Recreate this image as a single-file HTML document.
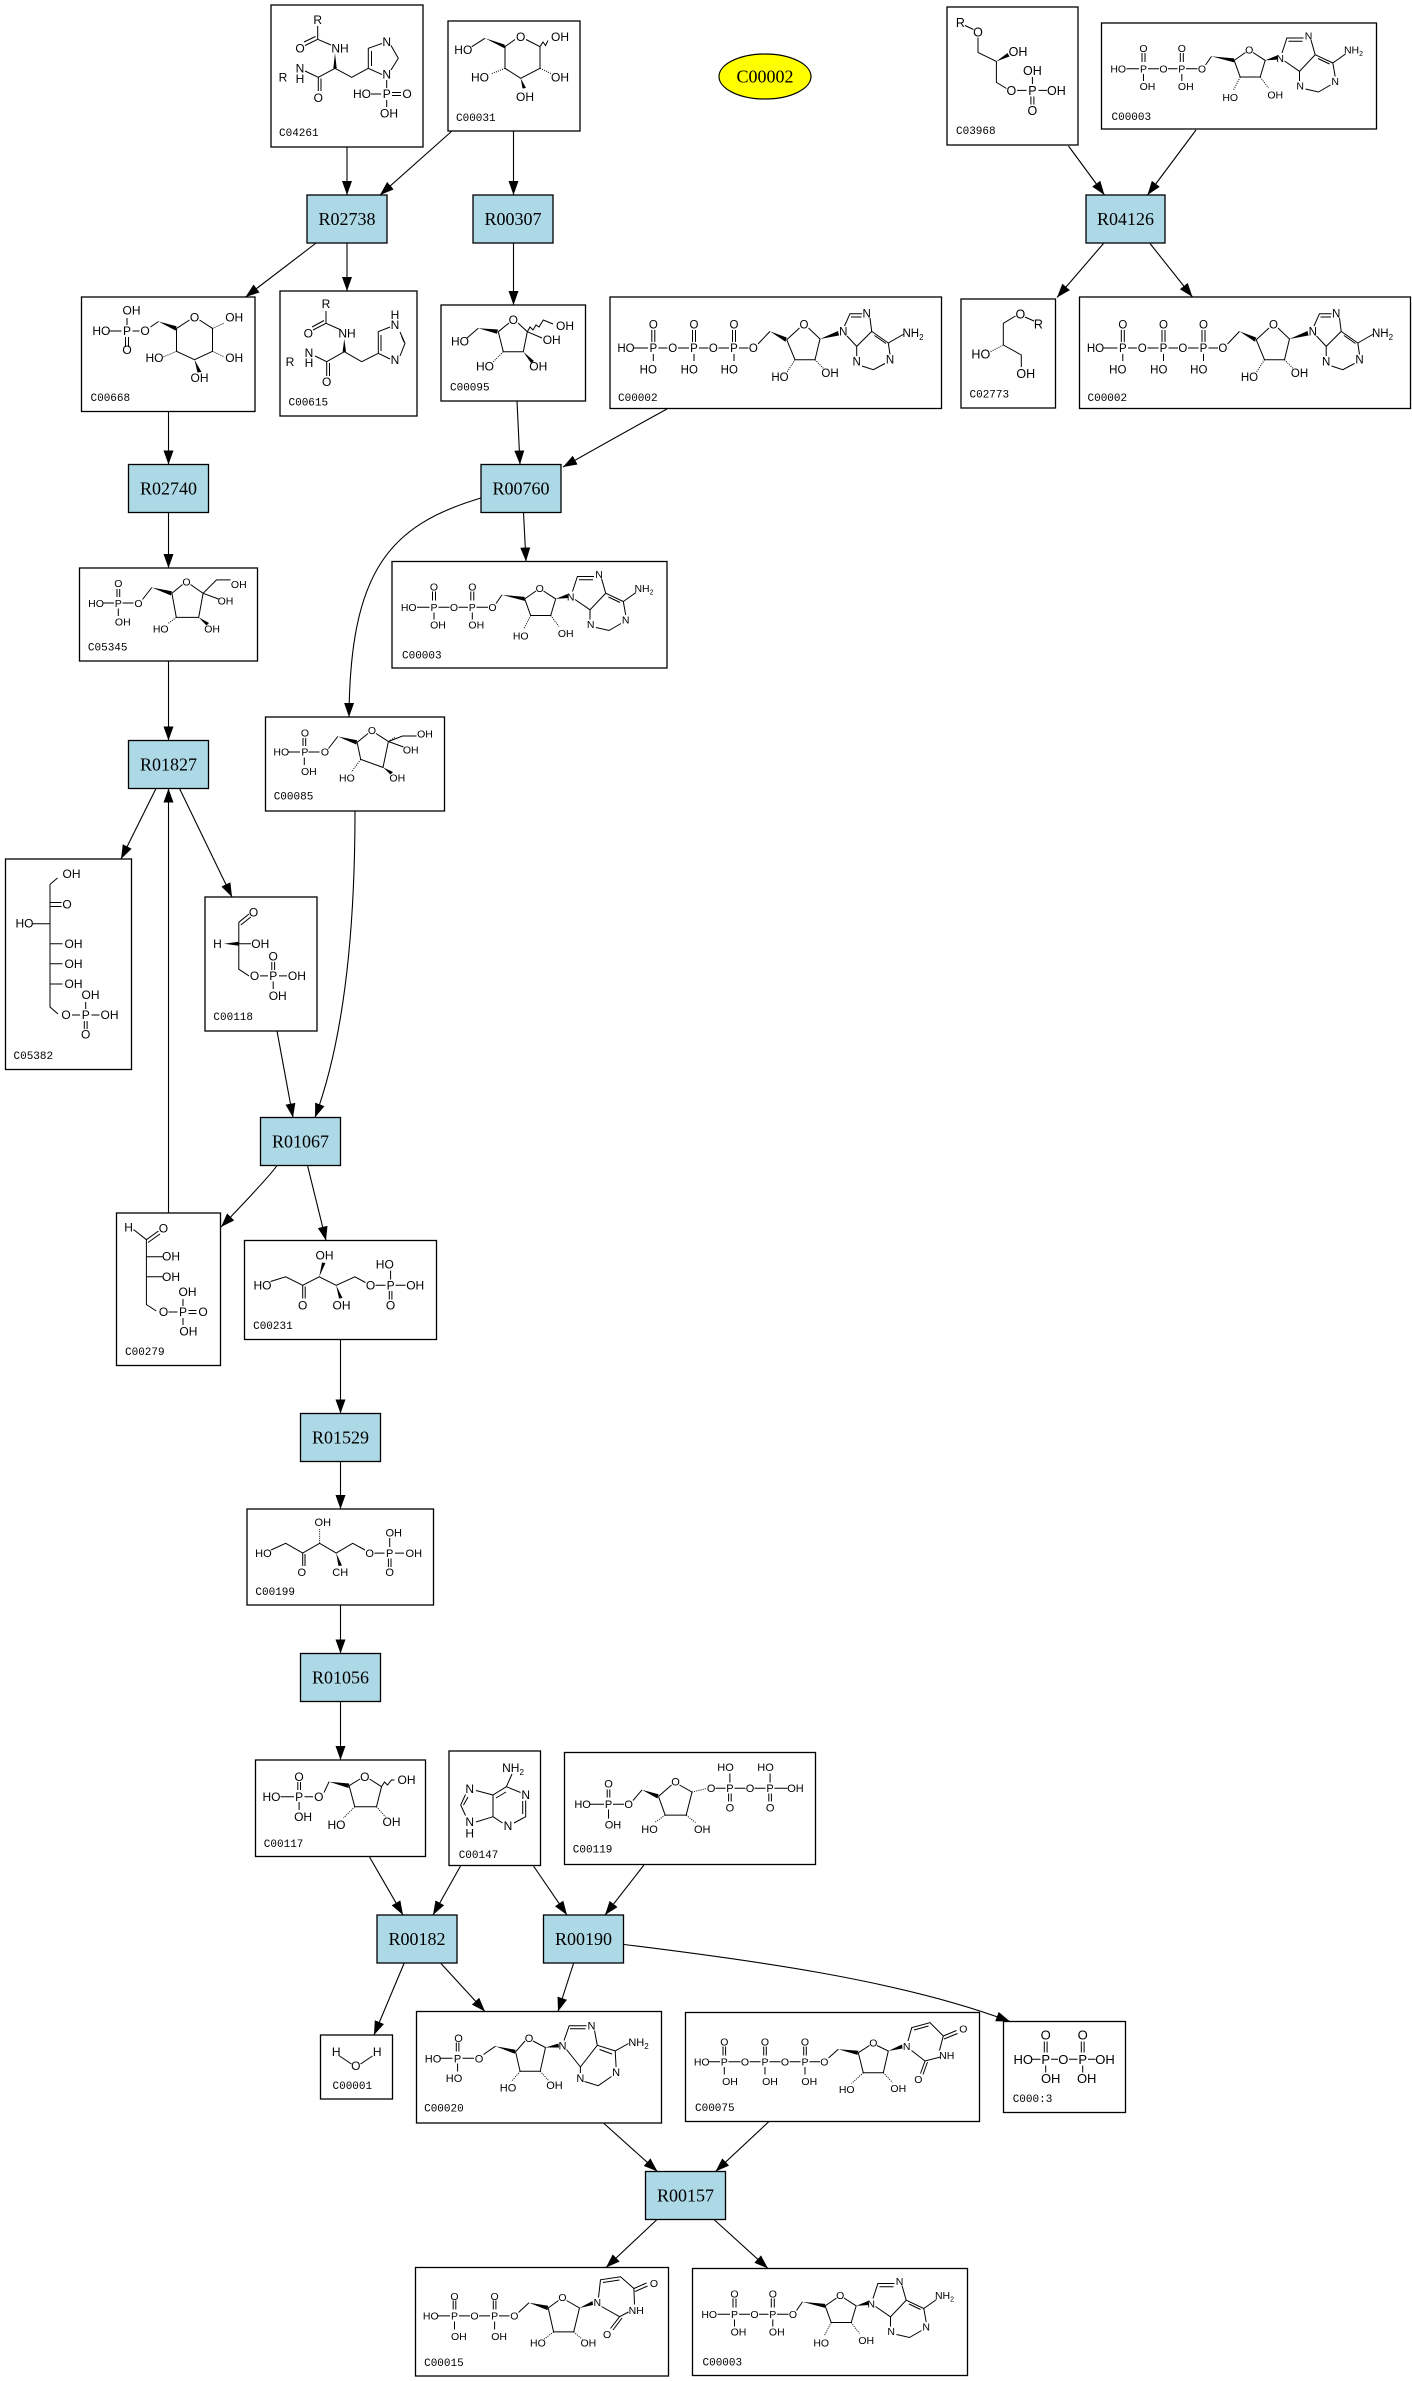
<!DOCTYPE html>
<html><head><meta charset="utf-8">
<style>
html,body{margin:0;padding:0;background:#fff;}
body{width:1412px;height:2381px;overflow:hidden;}
svg{position:absolute;left:0;top:0;}
svg text{font-family:"Liberation Sans",sans-serif;fill:#000;}
.m text{text-anchor:middle;}
.m text.lbl{font-family:"Liberation Mono",monospace;font-size:11px;text-anchor:start;}
.b{fill:none;stroke:#000;stroke-width:1;}
.h{fill:none;stroke:#000;stroke-width:1;stroke-dasharray:1 1.2;}
.w{fill:#000;stroke:none;}
.box{fill:#fff;stroke:#000;stroke-width:1.3;}
.rx{fill:#add8e6;stroke:#000;stroke-width:1.3;}
.rt{font-family:"Liberation Serif",serif !important;font-size:18px;text-anchor:middle;}
.e{fill:none;stroke:#000;stroke-width:1.1;}
</style></head>
<body>
<svg width="1412" height="2381" viewBox="0 0 1412 2381" xmlns="http://www.w3.org/2000/svg">
<defs>
<marker id="a" markerWidth="14" markerHeight="10" refX="14" refY="5" orient="auto" markerUnits="userSpaceOnUse"><path d="M0,0 L14,5 L0,10 z" fill="#000"/></marker>
</defs>

<!-- ============ COMPOUND BOXES ============ -->
<rect class="box" x="271" y="5" width="152" height="142"/>
<rect class="box" x="448" y="21" width="132" height="110"/>
<rect class="box" x="947" y="7" width="131" height="138"/>
<rect class="box" x="1101.5" y="23" width="275" height="106"/>
<rect class="box" x="81.5" y="297" width="173.5" height="114.5"/>
<rect class="box" x="280" y="291" width="137" height="125"/>
<rect class="box" x="441" y="305" width="144.5" height="96"/>
<rect class="box" x="610" y="297" width="331.5" height="111.5"/>
<rect class="box" x="961" y="299" width="94.5" height="109"/>
<rect class="box" x="1079.5" y="297" width="331" height="111.5"/>
<rect class="box" x="79.5" y="568" width="178" height="93"/>
<rect class="box" x="392" y="561.5" width="275" height="106.5"/>
<rect class="box" x="265.5" y="717" width="179" height="94"/>
<rect class="box" x="5.5" y="859" width="126" height="210.5"/>
<rect class="box" x="205" y="897" width="112" height="134"/>
<rect class="box" x="116.5" y="1213" width="104" height="152.5"/>
<rect class="box" x="244.5" y="1240.5" width="192" height="99"/>
<rect class="box" x="247" y="1509" width="186.5" height="96"/>
<rect class="box" x="255.5" y="1760" width="170" height="96.5"/>
<rect class="box" x="449" y="1751" width="91.5" height="114.5"/>
<rect class="box" x="564.5" y="1752.5" width="251" height="112"/>
<rect class="box" x="320.5" y="2035" width="72" height="64"/>
<rect class="box" x="416.5" y="2011.5" width="245" height="111.5"/>
<rect class="box" x="685.5" y="2012.5" width="294" height="109"/>
<rect class="box" x="1003.5" y="2021.5" width="122" height="91"/>
<rect class="box" x="415.5" y="2267.5" width="253" height="108.5"/>
<rect class="box" x="692.5" y="2268.5" width="275" height="107"/>

<!-- ============ C00002 ellipse ============ -->
<ellipse cx="765" cy="76.5" rx="46" ry="22.5" fill="#ffff00" stroke="#000" stroke-width="1.2"/>
<text class="rt" x="765" y="82.5">C00002</text>

<!-- ============ REACTIONS ============ -->
<g>
<rect class="rx" x="307" y="195" width="80" height="48"/><text class="rt" x="347" y="225">R02738</text>
<rect class="rx" x="473" y="195" width="80" height="48"/><text class="rt" x="513" y="225">R00307</text>
<rect class="rx" x="1086" y="195" width="79" height="48"/><text class="rt" x="1125.5" y="225">R04126</text>
<rect class="rx" x="128.5" y="464.5" width="80" height="48"/><text class="rt" x="168.5" y="494.5">R02740</text>
<rect class="rx" x="481" y="464.5" width="80" height="48"/><text class="rt" x="521" y="494.5">R00760</text>
<rect class="rx" x="128.5" y="740.5" width="80" height="48"/><text class="rt" x="168.5" y="770.5">R01827</text>
<rect class="rx" x="260.5" y="1117.5" width="80" height="48"/><text class="rt" x="300.5" y="1147.5">R01067</text>
<rect class="rx" x="300.5" y="1413.5" width="80" height="48"/><text class="rt" x="340.5" y="1443.5">R01529</text>
<rect class="rx" x="300.5" y="1653.5" width="80" height="48"/><text class="rt" x="340.5" y="1683.5">R01056</text>
<rect class="rx" x="377" y="1915" width="80" height="48"/><text class="rt" x="417" y="1945">R00182</text>
<rect class="rx" x="543.5" y="1915" width="80" height="48"/><text class="rt" x="583.5" y="1945">R00190</text>
<rect class="rx" x="645.5" y="2171.5" width="80" height="48"/><text class="rt" x="685.5" y="2201.5">R00157</text>
</g>

<!-- ============ EDGES ============ -->
<g class="e" marker-end="url(#a)">
<path class="e" marker-end="url(#a)" d="M347,147V195"/>
<path class="e" marker-end="url(#a)" d="M452,131L380,195"/>
<path class="e" marker-end="url(#a)" d="M513.5,131V195"/>
<path class="e" marker-end="url(#a)" d="M315.5,243.5L245.5,297"/>
<path class="e" marker-end="url(#a)" d="M347,243.5V291"/>
<path class="e" marker-end="url(#a)" d="M513.5,243.5V305"/>
<path class="e" marker-end="url(#a)" d="M1068.5,146L1104.5,195"/>
<path class="e" marker-end="url(#a)" d="M1196,130L1147.5,195"/>
<path class="e" marker-end="url(#a)" d="M1103.5,243.5L1057,297.5"/>
<path class="e" marker-end="url(#a)" d="M1150,243.5L1192.5,297"/>
<path class="e" marker-end="url(#a)" d="M168.5,411.5V464.5"/>
<path class="e" marker-end="url(#a)" d="M517,401L520,464.5"/>
<path class="e" marker-end="url(#a)" d="M667,409Q625,432 563,467"/>
<path class="e" marker-end="url(#a)" d="M523.5,512.5L526,561.5"/>
<path class="e" marker-end="url(#a)" d="M481,498C390,525 350,570 349,717"/>
<path class="e" marker-end="url(#a)" d="M168.5,512.5V568"/>
<path class="e" marker-end="url(#a)" d="M168.5,661V740.5"/>
<path class="e" marker-end="url(#a)" d="M156,788.5L121,859"/>
<path class="e" marker-end="url(#a)" d="M179.5,788.5L232,897"/>
<path class="e" marker-end="url(#a)" d="M168.5,1213V788.5"/>
<path class="e" marker-end="url(#a)" d="M277,1031L293,1117.5"/>
<path class="e" marker-end="url(#a)" d="M355,811C355,950 340,1050 315,1117.5"/>
<path class="e" marker-end="url(#a)" d="M277,1165.5Q270,1176 221,1227"/>
<path class="e" marker-end="url(#a)" d="M307.5,1165.5L326,1240.5"/>
<path class="e" marker-end="url(#a)" d="M340.5,1339.5V1413.5"/>
<path class="e" marker-end="url(#a)" d="M340.5,1461.5V1509"/>
<path class="e" marker-end="url(#a)" d="M340.5,1605V1653.5"/>
<path class="e" marker-end="url(#a)" d="M340.5,1701.5V1760"/>
<path class="e" marker-end="url(#a)" d="M369.5,1857L403,1915"/>
<path class="e" marker-end="url(#a)" d="M460.5,1866L433,1915"/>
<path class="e" marker-end="url(#a)" d="M533.5,1866L567,1915"/>
<path class="e" marker-end="url(#a)" d="M644,1865L605,1915"/>
<path class="e" marker-end="url(#a)" d="M404,1963.5L374,2035"/>
<path class="e" marker-end="url(#a)" d="M441,1963.5L485,2011.5"/>
<path class="e" marker-end="url(#a)" d="M573.5,1963.5L558,2011.5"/>
<path class="e" marker-end="url(#a)" d="M624,1944.5C750,1960 900,1980 1010,2021.5"/>
<path class="e" marker-end="url(#a)" d="M604,2123.5L657.5,2171.5"/>
<path class="e" marker-end="url(#a)" d="M769,2121.5L715.5,2171.5"/>
<path class="e" marker-end="url(#a)" d="M657,2219.5L606,2267.5"/>
<path class="e" marker-end="url(#a)" d="M714,2219.5L768,2268.5"/>
</g>

<!-- ============ MOLECULES ============ -->

<!-- C04261 -->
<g class="m" font-size="12" transform="translate(271,5)">
<path class="b" d="M46.7,21V34.3 M46.7,34.3L34,40.5 M44.5,31.5L33,37 M46.7,34.3L60,40 M34,66L47.3,72.3L64,63.3L80.7,72.3L97.3,63.3 M47.3,72.3V86 M50,73.5V86 M97.3,63.3V43.3L111,38.5 M100.5,46V61 M120,40.5L127.3,53.3L120,65 M122,44L126,51 M111,69.5L97.3,63.3 M115.7,75V83 M100,89H110 M121,87.5H130 M121,90.5H130 M115.7,95V102"/>
<polygon class="w" points="64,48 62.3,63.3 65.7,63.3"/>
<text x="46.7" y="19">R</text><text x="29" y="47.5">O</text><text x="69" y="47.5">NH</text>
<text x="12" y="76.5">R</text><text x="29" y="67.5">N</text><text x="29" y="78">H</text>
<text x="47.3" y="97">O</text><text x="115.7" y="41">N</text><text x="115.7" y="73.5">N</text>
<text x="91" y="93">HO</text><text x="115.7" y="93">P</text><text x="136" y="93">O</text><text x="118" y="112.5">OH</text>
<text class="lbl" x="8" y="131">C04261</text>
</g>

<!-- C00031 -->
<g class="m" font-size="12" transform="translate(448,21)">
<path class="b" d="M23.7,25.7L37,17.3 M57,25.7L67,18.5 M78,18.5L92,25.7V47.3L72.7,57.3L57,47.3V25.7 M92,25.7L95,21L97.5,24.5L100,19.5"/>
<path class="h" d="M57,47.3L43,53 M92,47.3L104,53"/>
<polygon class="w" points="37,17.3 56.5,23.5 57.5,27.8"/>
<polygon class="w" points="72.7,57.3 74.5,67.5 78,67"/>
<text x="72.7" y="20">O</text><text x="112" y="20">OH</text><text x="15.3" y="33">HO</text>
<text x="32" y="60.5">HO</text><text x="112" y="60.5">OH</text><text x="77" y="80">OH</text>
<text class="lbl" x="8" y="100">C00031</text>
</g>

<!-- C03968 -->
<g class="m" font-size="12.5" transform="translate(947,7)">
<path class="b" d="M18,18.5L26.5,22.5 M31,30.5V45.4L49.4,54.4V75.4L59.5,81.5 M70,83.4H79.5 M91.5,83.4H100 M85.4,77V70 M83.9,89.5V97.5 M86.9,89.5V97.5"/>
<polygon class="w" points="49.4,54.4 60.5,46 62.5,49.5"/>
<text fill="#630" x="13.4" y="20">R</text><text x="31" y="29.5">O</text><text x="71" y="49">OH</text>
<text x="85.4" y="68">OH</text><text x="64.4" y="88">O</text><text x="85.4" y="88">P</text>
<text x="109.4" y="88">OH</text><text x="85.4" y="108">O</text>
<text class="lbl" x="9" y="127">C03968</text>
</g>

<!-- ADP C00003 (top right) -->
<g class="m" font-size="10.5" transform="translate(1101.5,23)">
<path class="b" d="M25,45.7H37.5 M46.5,45.7H57.5 M66.5,45.7H76 M84.5,45.7H96 M40.5,39V30 M43.5,39V30 M78.8,39V30 M81.8,39V30 M42,51V58 M80.3,51V58 M104,42L110,33.4 M132.7,37.4L144,29.5 M151.5,29.5L163.7,37.4L158.7,54L138.7,54L132.7,37.4 M180.5,30L185.4,15H202 M187,18.3H201 M209.5,17L213.7,31.7L198,48.3L183,38 M198,48.3V58 M204,66L217,69L229,62 M233.7,53.5L231.3,40L213.7,31.7 M231.3,40L244,31 M216.5,35.5L228,41"/>
<path class="h" d="M138.7,54L132,67 M158.7,54L167,65"/>
<polygon class="w" points="110,33.4 132.7,35.4 132.7,39.4"/>
<polygon class="w" points="163.7,37.4 175.5,32.5 176.5,36.5"/>
<text x="16.7" y="49.5">HO</text><text x="42" y="49.5">P</text><text x="62" y="49.5">O</text><text x="80.3" y="49.5">P</text><text x="100.4" y="49.5">O</text>
<text x="42" y="28.8">O</text><text x="80.3" y="28.8">O</text><text x="46" y="67.2">OH</text><text x="84.3" y="67.2">OH</text>
<text x="147.7" y="30.5">O</text><text x="128.7" y="77.8">HO</text><text x="173.7" y="75.5">OH</text>
<text x="178.7" y="38.8">N</text><text x="207" y="16.5">N</text><text x="198.7" y="66.5">N</text><text x="233.7" y="62.2">N</text>
<text x="252" y="30.5">NH<tspan font-size="7" dy="2.5">2</tspan></text>
<text class="lbl" x="10" y="97">C00003</text>
</g>

<!-- C00668 -->
<g class="m" font-size="12" transform="translate(81.5,297)">
<path class="b" d="M27,34H40 M51,34H58 M45.5,28V21 M44,40V50 M47,40V50 M69,30L77,24.5 M95,31.4L108,23 M118,23L131,31.4V54.3L113,62.7L95,54.3V31.4"/>
<path class="h" d="M131,31.4L143,26 M95,54.3L82,60 M131,54.3L143,60"/>
<polygon class="w" points="77,24.5 95,29.2 94.2,33.6"/>
<polygon class="w" points="113,62.7 116,75.5 120,75"/>
<text x="50" y="17.7">OH</text><text x="19.9" y="38">HO</text><text x="45.5" y="38">P</text><text x="63.5" y="38">O</text>
<text x="45.5" y="57.2">O</text><text x="113" y="24.6">O</text><text x="152.7" y="24.6">OH</text>
<text x="73" y="64.8">HO</text><text x="152.7" y="64.8">OH</text><text x="118" y="85">OH</text>
<text class="lbl" x="9" y="104">C00668</text>
</g>

<!-- C00615 -->
<g class="m" font-size="12" transform="translate(280,291)">
<path class="b" d="M46,20V32.3 M46,32.3L33,39 M44,29.5L32,36 M46,32.3L60,38.5 M35,65L46.7,70.7L64.3,60.7L81.7,70.7L98.3,62.3 M46.7,70.7V85 M49.5,72V85 M98.3,62.3L110,68 M98.3,62.3V40.7L110,36 M120,41L125,52.3L120,65 M121.5,45L124,51 M101,44V60"/>
<polygon class="w" points="64.3,48 62.6,60.7 66,60.7"/>
<text x="46" y="17">R</text><text x="28.3" y="46.3">O</text><text x="67" y="46.3">NH</text>
<text x="10" y="75">R</text><text x="29" y="66">N</text><text x="29" y="76">H</text>
<text x="46.7" y="95">O</text><text x="115" y="73">N</text><text x="115" y="38">N</text><text x="115" y="28">H</text>
<text class="lbl" x="8.5" y="114.5">C00615</text>
</g>

<!-- C00095 -->
<g class="m" font-size="12" transform="translate(441,305)">
<path class="b" d="M26,33L37.3,23.3 M57.3,26.7L68,18 M77,18L86.3,26.7L82.3,46.7L62.3,46.7L57.3,26.7 M86.3,26.7L89,22L92,25L95,20L98,22L102.3,15L112,19 M86.3,26.7L101,33"/>
<path class="h" d="M62.3,46.7L52,57"/>
<polygon class="w" points="37.3,23.3 57,24.5 56,28.8"/>
<polygon class="w" points="82.3,46.7 90,58 93,56"/>
<text x="19" y="40.7">HO</text><text x="72.3" y="19">O</text><text x="124" y="25">OH</text>
<text x="110.7" y="39">OH</text><text x="44" y="65.7">HO</text><text x="97.3" y="65.7">OH</text>
<text class="lbl" x="9" y="85.5">C00095</text>
</g>

<!-- ATP C00002 (middle) -->
<g class="m" font-size="11.5" transform="translate(610,297)">
<path class="b" d="M24,51H38 M48.5,51H57.5 M68,51H79 M89,51H98.5 M108.5,51H119 M129,51H138.5 M41.8,45V33 M44.8,45V33 M82.5,45V33 M85.5,45V33 M122.5,45V33 M125.5,45V33 M43.3,57V64 M84,57V64 M124,57V64 M148,47L160,34.4 M176.7,42.7L189.5,31 M198.5,31L210,42L205,62.7L185,62.7L176.7,42.7 M234.5,29L240,16.7H252 M241,20H251.5 M260,21L261.7,34.4L246.7,49.4L237,39 M246.7,49.4V59 M252,69L263.3,72.7L275,66.5 M280,57.5L278.3,46L261.7,34.4 M278.3,46L294,37 M264.5,38.5L276,46.5"/>
<path class="h" d="M185,62.7L177,75 M205,62.7L214,72"/>
<polygon class="w" points="160,34.4 176.7,40.5 175.5,44.8"/>
<polygon class="w" points="210,42 228,34 229,38.5"/>
<text x="16" y="55">HO</text><text x="43.3" y="55">P</text><text x="62.7" y="55">O</text><text x="84" y="55">P</text><text x="103.3" y="55">O</text><text x="124" y="55">P</text><text x="143.3" y="55">O</text>
<text x="43.3" y="31.7">O</text><text x="84" y="31.7">O</text><text x="124" y="31.7">O</text>
<text x="38.3" y="76.7">HO</text><text x="79.3" y="76.7">HO</text><text x="119.3" y="76.7">HO</text>
<text x="194" y="31.7">O</text><text x="170" y="84">HO</text><text x="220" y="80">OH</text>
<text x="233.3" y="38.4">N</text><text x="256.7" y="20.7">N</text><text x="246.7" y="68.4">N</text><text x="280" y="66.7">N</text>
<text x="303" y="40">NH<tspan font-size="8" dy="3">2</tspan></text>
<text class="lbl" x="8" y="104">C00002</text>
</g>

<!-- C02773 -->
<g class="m" font-size="12.5" transform="translate(961,299)">
<path class="b" d="M42.3,24.3L54.5,17 M64,18L73,22 M42.3,24.3V46 M42.3,46L60.3,56V68"/>
<path class="h" d="M42.3,46L29,53"/>
<text x="59.4" y="19.5">O</text><text x="77.4" y="29.5">R</text><text x="19.8" y="59.5">HO</text><text x="64.8" y="79">OH</text>
<text class="lbl" x="8.5" y="98.5">C02773</text>
</g>

<!-- ATP C00002 (right) -->
<g class="m" font-size="11.5" transform="translate(1079.5,297)">
<path class="b" d="M24,51H38 M48.5,51H57.5 M68,51H79 M89,51H98.5 M108.5,51H119 M129,51H138.5 M41.8,45V33 M44.8,45V33 M82.5,45V33 M85.5,45V33 M122.5,45V33 M125.5,45V33 M43.3,57V64 M84,57V64 M124,57V64 M148,47L160,34.4 M176.7,42.7L189.5,31 M198.5,31L210,42L205,62.7L185,62.7L176.7,42.7 M234.5,29L240,16.7H252 M241,20H251.5 M260,21L261.7,34.4L246.7,49.4L237,39 M246.7,49.4V59 M252,69L263.3,72.7L275,66.5 M280,57.5L278.3,46L261.7,34.4 M278.3,46L294,37 M264.5,38.5L276,46.5"/>
<path class="h" d="M185,62.7L177,75 M205,62.7L214,72"/>
<polygon class="w" points="160,34.4 176.7,40.5 175.5,44.8"/>
<polygon class="w" points="210,42 228,34 229,38.5"/>
<text x="16" y="55">HO</text><text x="43.3" y="55">P</text><text x="62.7" y="55">O</text><text x="84" y="55">P</text><text x="103.3" y="55">O</text><text x="124" y="55">P</text><text x="143.3" y="55">O</text>
<text x="43.3" y="31.7">O</text><text x="84" y="31.7">O</text><text x="124" y="31.7">O</text>
<text x="38.3" y="76.7">HO</text><text x="79.3" y="76.7">HO</text><text x="119.3" y="76.7">HO</text>
<text x="194" y="31.7">O</text><text x="170" y="84">HO</text><text x="220" y="80">OH</text>
<text x="233.3" y="38.4">N</text><text x="256.7" y="20.7">N</text><text x="246.7" y="68.4">N</text><text x="280" y="66.7">N</text>
<text x="303" y="40">NH<tspan font-size="8" dy="3">2</tspan></text>
<text class="lbl" x="8" y="104">C00002</text>
</g>

<!-- C05345 -->
<g class="m" font-size="10.5" transform="translate(79.5,568)">
<path class="b" d="M37.5,29V21 M40.2,29V21 M23,35H34.5 M43,35H54 M38.8,40.5V48 M63,31.5L72.3,19.5 M92.4,25.3L103,16.5 M111,16.5L123.6,25.3L119.2,49.4L96.8,49.4L92.4,25.3 M123.6,25.3L137,11.9H151 M123.6,25.3L139,31"/>
<path class="h" d="M96.8,49.4L88,56"/>
<polygon class="w" points="72.3,19.5 92.4,23.3 91.5,27.5"/>
<polygon class="w" points="119.2,49.4 127,57.5 129.5,55"/>
<text x="38.8" y="18.8">O</text><text x="16.5" y="38.8">HO</text><text x="38.8" y="38.8">P</text><text x="58.9" y="38.8">O</text>
<text x="43.3" y="57.7">OH</text><text x="107" y="17.5">O</text><text x="159.3" y="20.2">OH</text>
<text x="146" y="36.7">OH</text><text x="81.2" y="64.4">HO</text><text x="132.6" y="64.4">OH</text>
<text class="lbl" x="8.4" y="82.5">C05345</text>
</g>

<!-- ADP C00003 (middle) -->
<g class="m" font-size="10.5" transform="translate(392,561.5)">
<path class="b" d="M25,45.7H37.5 M46.5,45.7H57.5 M66.5,45.7H76 M84.5,45.7H96 M40.5,39V30 M43.5,39V30 M78.8,39V30 M81.8,39V30 M42,51V58 M80.3,51V58 M104,42L110,33.4 M132.7,37.4L144,29.5 M151.5,29.5L163.7,37.4L158.7,54L138.7,54L132.7,37.4 M180.5,30L185.4,15H202 M187,18.3H201 M209.5,17L213.7,31.7L198,48.3L183,38 M198,48.3V58 M204,66L217,69L229,62 M233.7,53.5L231.3,40L213.7,31.7 M231.3,40L244,31 M216.5,35.5L228,41"/>
<path class="h" d="M138.7,54L132,67 M158.7,54L167,65"/>
<polygon class="w" points="110,33.4 132.7,35.4 132.7,39.4"/>
<polygon class="w" points="163.7,37.4 175.5,32.5 176.5,36.5"/>
<text x="16.7" y="49.5">HO</text><text x="42" y="49.5">P</text><text x="62" y="49.5">O</text><text x="80.3" y="49.5">P</text><text x="100.4" y="49.5">O</text>
<text x="42" y="28.8">O</text><text x="80.3" y="28.8">O</text><text x="46" y="67.2">OH</text><text x="84.3" y="67.2">OH</text>
<text x="147.7" y="30.5">O</text><text x="128.7" y="77.8">HO</text><text x="173.7" y="75.5">OH</text>
<text x="178.7" y="38.8">N</text><text x="207" y="16.5">N</text><text x="198.7" y="66.5">N</text><text x="233.7" y="62.2">N</text>
<text x="252" y="30.5">NH<tspan font-size="7" dy="2.5">2</tspan></text>
<text class="lbl" x="10" y="97">C00003</text>
</g>

<!-- C00085 -->
<g class="m" font-size="10.5" transform="translate(265.5,717)">
<path class="b" d="M37.5,29V21 M40.2,29V21 M23,35H34.5 M43,35H54 M38.8,40.5V48 M63,31.5L72.3,19.5 M91.6,25.4L102.5,16.5 M110.5,16.5L122.9,24.5L117.5,50.4L95.2,42.4L91.6,25.4 M122.9,24.5L137,19H151 M122.9,24.5L138,30"/>
<path class="h" d="M95.2,42.4L86,55 M122.9,24.5L130,20"/>
<polygon class="w" points="72.3,19.5 91.6,23.3 90.8,27.5"/>
<polygon class="w" points="117.5,50.4 125,57.5 127.5,55"/>
<text x="39.4" y="19.4">O</text><text x="15.8" y="38.6">HO</text><text x="39.4" y="38.6">P</text><text x="59.5" y="38.6">O</text>
<text x="43.4" y="58.2">OH</text><text x="106.4" y="17.2">O</text><text x="159.5" y="20.3">OH</text>
<text x="145.2" y="36.3">OH</text><text x="81.4" y="64.5">HO</text><text x="131.8" y="64.5">OH</text>
<text class="lbl" x="8.2" y="82.5">C00085</text>
</g>

<!-- C05382 -->
<g class="m" font-size="12" transform="translate(5.5,859)">
<path class="b" d="M44.5,25.4V148L52.5,155 M44.5,25.4L52,19 M44.5,43.5H56 M44.5,47.5H56 M27,64.7H44.5 M44.5,84.8H57 M44.5,104.8H57 M44.5,125H57 M66.5,156H74.5 M86,156H94 M80.2,150V143 M78.8,162V170 M81.6,162V170"/>
<text x="66" y="19">OH</text><text x="61.5" y="49.5">O</text><text x="19" y="68.7">HO</text>
<text x="68" y="88.8">OH</text><text x="68" y="108.8">OH</text><text x="68" y="129">OH</text>
<text x="85" y="140">OH</text><text x="60.6" y="160">O</text><text x="80.2" y="160">P</text>
<text x="104" y="160">OH</text><text x="80.2" y="179.5">O</text>
<text class="lbl" x="8" y="200">C05382</text>
</g>

<!-- C00118 -->
<g class="m" font-size="12" transform="translate(205,897)">
<path class="b" d="M33.8,25.3L44,17 M35.8,28L45.8,20 M33.8,25.3V72.2L44,78.9 M33.8,46.8H46 M55,78.9H63 M74,78.9H82 M66.8,73V65 M69.6,73V65 M68.2,84.5V92"/>
<polygon class="w" points="19,46.8 33.8,44.8 33.8,48.8"/>
<text x="48.6" y="19.5">O</text><text x="12.4" y="51">H</text><text x="55.3" y="51">OH</text>
<text x="49.5" y="83">O</text><text x="68.2" y="83">P</text><text x="91.9" y="83">OH</text>
<text x="68.2" y="63.7">O</text><text x="72.7" y="103">OH</text>
<text class="lbl" x="8.4" y="123">C00118</text>
</g>

<!-- C00279 -->
<g class="m" font-size="12" transform="translate(116.5,1213)">
<path class="b" d="M17,16.5L29.9,26.7 M29.9,26.7L42,18 M31.5,29.5L43.5,21 M29.9,26.7V91.5L39.8,98 M29.9,43.7H46 M29.9,63.8H46 M52,99H61 M72,97.5H80 M72,100.5H80 M66.5,93V86 M66.5,105V112"/>
<text x="12.1" y="18.7">H</text><text x="46.9" y="19.6">O</text><text x="54.5" y="47.7">OH</text>
<text x="54.5" y="67.8">OH</text><text x="47" y="103">O</text><text x="66.5" y="103">P</text>
<text x="86.6" y="103">O</text><text x="71" y="83">OH</text><text x="71.9" y="122.3">OH</text>
<text class="lbl" x="8.5" y="142">C00279</text>
</g>

<!-- C00231 -->
<g class="m" font-size="12" transform="translate(244.5,1240.5)">
<path class="b" d="M26,41L41.2,36.3L58.2,44.8L74.7,36.3L91.7,44.8L110.4,36.3L121,42 M58.2,44.8V58 M60.7,46V58 M131,44.8H141 M151,44.8H161 M146.1,39V30 M144.8,50.5V59 M147.4,50.5V59"/>
<polygon class="w" points="74.7,36.3 77.5,22 81,22.5"/>
<polygon class="w" points="91.7,44.8 94.5,58 98,57.5"/>
<text x="18" y="48.8">HO</text><text x="58.2" y="68.9">O</text><text x="80" y="18.9">OH</text>
<text x="97" y="68.9">OH</text><text x="126" y="48.8">O</text><text x="146.1" y="48.8">P</text>
<text x="170.7" y="48.8">OH</text><text x="140.3" y="27.8">HO</text><text x="146.1" y="68.9">O</text>
<text class="lbl" x="8.6" y="88.5">C00231</text>
</g>

<!-- C00199 -->
<g class="m" font-size="11" transform="translate(247,1509)">
<path class="b" d="M24,41L38.7,34.3L55.7,44.1L72.6,34.3L89.2,44.1L105.7,34.3L118,41 M55.7,44.1V57 M58,45V57 M127.5,44.1H137.5 M148,44.1H157 M142.7,38V29 M141.4,49.5V58 M144,49.5V58"/>
<path class="h" d="M72.6,34.3V19"/>
<polygon class="w" points="89.2,44.1 91.5,57 95,56.5"/>
<text x="16.4" y="48">HO</text><text x="54.8" y="67.2">O</text><text x="75.8" y="17.2">OH</text>
<text x="93.2" y="67.2">CH</text><text x="122.6" y="48">O</text><text x="142.7" y="48">P</text>
<text x="166.8" y="48">OH</text><text x="146.7" y="27.5">OH</text><text x="142.7" y="67.2">O</text>
<text class="lbl" x="8.4" y="86">C00199</text>
</g>

<!-- C00117 -->
<g class="m" font-size="12" transform="translate(255.5,1760)">
<path class="b" d="M42.3,30V22 M45,30V22 M25,36.7H38.5 M49,36.7H57.5 M43.6,42V50 M68.5,32.5L73.6,21.7 M93.6,25.7L104.5,19 M114,19L126,26.7L121,46.7L99.3,46.7L93.6,25.7 M126,26.7L129,22L132,25L136,20L139,20"/>
<path class="h" d="M99.3,46.7L88,58 M121,46.7L130,57"/>
<polygon class="w" points="73.6,21.7 93.6,23.5 93,28"/>
<text x="43.6" y="20.9">O</text><text x="16" y="40.9">HO</text><text x="43.6" y="40.9">P</text>
<text x="63.3" y="40.9">O</text><text x="47.6" y="60.9">OH</text><text x="109.3" y="20.9">O</text>
<text x="151" y="24.2">OH</text><text x="81" y="69.2">HO</text><text x="136" y="65.9">OH</text>
<text class="lbl" x="8.3" y="87">C00117</text>
</g>

<!-- C00147 -->
<g class="m" font-size="12" transform="translate(449,1751)">
<path class="b" d="M57.4,35.7L63,23 M57.4,35.7L71.5,41.5 M76.7,49.5V65.7L65,72 M53.5,72L44,65.7V44L57.4,35.7 M47,47L57,41 M73.7,50V63 M44,44L27,39.5 M16.5,43.5L11.7,54L16.5,64.5 M19,46L14.5,54 M27,71L44,65.7"/>
<text x="64" y="20.9">NH<tspan font-size="8" dy="3">2</tspan></text>
<text x="76.7" y="48.2">N</text><text x="59" y="78.9">N</text><text x="20.7" y="42.2">N</text>
<text x="20.7" y="74.9">N</text><text x="20.7" y="86.5">H</text>
<text class="lbl" x="9.7" y="107">C00147</text>
</g>

<!-- C00119 -->
<g class="m" font-size="11" transform="translate(564.5,1752.5)">
<path class="b" d="M42.7,45V37 M45.3,45V37 M25,51.7H39.5 M48.5,51.7H59.5 M44,57V66 M68.5,48L77.5,37.4 M94,43.9L107,32.5 M115,32.5L127.5,39.6L121.7,62.6L100.7,62.6L94,43.9 M151,35.7H161 M170,35.7H181 M190,35.7H201 M210,35.7H223 M165.4,30V21 M205.6,30V21 M164.1,41V49 M166.7,41V49 M204.3,41V49 M206.9,41V49"/>
<path class="h" d="M127.5,39.6L142,36 M100.7,62.6L90,70 M121.7,62.6L131,70"/>
<polygon class="w" points="77.5,37.4 94,41.8 93,46"/>
<text x="44" y="35.2">O</text><text x="18.1" y="55.6">HO</text><text x="44" y="55.6">P</text>
<text x="64.1" y="55.6">O</text><text x="48.5" y="76.1">OH</text><text x="111" y="33.1">O</text>
<text x="85" y="80.4">HO</text><text x="137.7" y="80.4">OH</text><text x="146.7" y="39.6">O</text>
<text x="165.4" y="39.6">P</text><text x="185.5" y="39.6">O</text><text x="205.6" y="39.6">P</text>
<text x="231" y="39.6">OH</text><text x="161" y="18.7">HO</text><text x="201" y="18.7">HO</text>
<text x="165.4" y="59.1">O</text><text x="205.6" y="59.1">O</text>
<text class="lbl" x="8.3" y="100">C00119</text>
</g>

<!-- C00001 -->
<g class="m" font-size="12" transform="translate(320.5,2035)">
<path class="b" d="M19,21L31,29 M40,29L52,21"/>
<text x="15.7" y="21">H</text><text x="35.3" y="35">O</text><text x="56.7" y="21">H</text>
<text class="lbl" x="12" y="54">C00001</text>
</g>

<!-- C00020 AMP -->
<g class="m" font-size="11" transform="translate(416.5,2011.5)">
<path class="b" d="M39.8,40V31 M42.4,40V31 M23,46.8H36 M46,46.8H57.5 M41.1,52V60 M67,43L79,34.7 M99.1,40.3L108.5,29.5 M116.5,29.5L129,36L123.7,59.8L103.6,59.8L99.1,40.3 M147.5,29L152.7,14.2H170 M153.5,17.3H169 M178,19L180.8,33.8L163.9,55.5L150,38 M163.9,55.5V61.5 M168,70L181.7,74.2L195,65 M199.6,55.5L198.7,39.4L180.8,33.8 M198.7,39.4L212,32 M183,38L195.5,42.5"/>
<path class="h" d="M103.6,59.8L95,70 M123.7,59.8L132,69"/>
<polygon class="w" points="79,34.7 99.1,38.3 98.3,42.3"/>
<polygon class="w" points="129,36 142,32 142.5,36"/>
<text x="42" y="30.4">O</text><text x="16.5" y="50.8">HO</text><text x="41.1" y="50.8">P</text>
<text x="62.5" y="50.8">O</text><text x="37.5" y="70.3">HO</text><text x="112.5" y="30.4">O</text>
<text x="91.5" y="79.9">HO</text><text x="138" y="77.7">OH</text><text x="146" y="37.8">N</text>
<text x="175" y="18.2">N</text><text x="163.9" y="70.3">N</text><text x="199.6" y="64.7">N</text>
<text x="222" y="34.7">NH<tspan font-size="8" dy="3">2</tspan></text>
<text class="lbl" x="7.6" y="100">C00020</text>
</g>

<!-- C00075 UTP -->
<g class="m" font-size="10.5" transform="translate(685.5,2012.5)">
<path class="b" d="M22.5,49.2H34.5 M43,49.2H55 M64,49.2H75 M84,49.2H95 M104,49.2H115 M124,49.2H134.5 M37.5,43V34 M40.1,43V34 M78.2,43V34 M80.8,43V34 M118.2,43V34 M120.8,43V34 M38.8,54.5V62 M79.5,54.5V62 M119.5,54.5V62 M143,45.5L152.8,36.8 M172.8,40.2L184,33 M191.5,33L202.8,38.5L197.8,60.2L177.8,60.2L172.8,40.2 M222.5,28.5L226.2,15.2L244.5,10.2L257.8,23.5L254,38 M257.8,23.5L271,18 M258.5,26.5L272,21 M255,44.5L239.5,48.5L226,38 M239.5,48.5L235,61 M242,49.5L237.5,62 M228.5,17.5L243,13.5"/>
<path class="h" d="M177.8,60.2L166,71 M197.8,60.2L207,70"/>
<polygon class="w" points="152.8,36.8 172.8,38.2 172,42.4"/>
<polygon class="w" points="202.8,38.5 216.5,32 217,36"/>
<text x="16.2" y="53">HO</text><text x="38.8" y="53">P</text><text x="59.5" y="53">O</text>
<text x="79.5" y="53">P</text><text x="99.5" y="53">O</text><text x="119.5" y="53">P</text><text x="138.8" y="53">O</text>
<text x="38.8" y="33">O</text><text x="79.5" y="33">O</text><text x="119.5" y="33">O</text>
<text x="44.5" y="72.3">OH</text><text x="84.5" y="72.3">OH</text><text x="123.8" y="72.3">OH</text>
<text x="187.8" y="34">O</text><text x="161.2" y="80.6">HO</text><text x="212.8" y="79.6">OH</text>
<text x="221.2" y="37.3">N</text><text x="277.8" y="20">O</text><text x="261.2" y="46.3">NH</text><text x="232.8" y="70.6">O</text>
<text class="lbl" x="9.5" y="98.5">C00075</text>
</g>

<!-- C000:3 PPi -->
<g class="m" font-size="13" transform="translate(1003.5,2021.5)">
<path class="b" d="M28.5,37.8H37 M47.5,37.8H54.5 M65.5,37.8H74 M84.5,37.8H92 M40.8,31V20 M43.6,31V20 M77.8,31V20 M80.6,31V20 M42.2,44V51 M79.2,44V51"/>
<text x="19.8" y="42.3">HO</text><text x="42.2" y="42.3">P</text><text x="59.8" y="42.3">O</text>
<text x="79.2" y="42.3">P</text><text x="101.5" y="42.3">OH</text><text x="42.2" y="18">O</text>
<text x="79.2" y="18">O</text><text x="47.2" y="61.3">OH</text><text x="83.2" y="61.3">OH</text>
<text class="lbl" x="9.2" y="80.5">C000:3</text>
</g>

<!-- C00015 UDP -->
<g class="m" font-size="10.5" transform="translate(415.5,2267.5)">
<path class="b" d="M21.5,48.4H34.5 M43.5,48.4H54.5 M63.5,48.4H74.5 M83.5,48.4H94 M37.7,42V33 M40.3,42V33 M77.8,42V33 M80.4,42V33 M39,54V62 M79.1,54V62 M103,45L113.5,35.3 M132.7,40.5L143,33 M151,33L164,40.5L158.2,64.4L138.1,64.4L132.7,40.5 M183,30L185,12.3L205,9.3L218.4,21L219,37 M218.4,21L231,15.5 M219.5,24L232,18.5 M213,44.5L204.1,49.2L186,39 M204.1,49.2L195,61 M206.5,50.5L197.5,62.5 M187.5,15L204,12.5"/>
<path class="h" d="M138.1,64.4L128,72 M158.2,64.4L167,72"/>
<polygon class="w" points="113.5,35.3 132.7,38.3 132,42.6"/>
<polygon class="w" points="164,40.5 177,33.5 177.5,37.5"/>
<text x="15.3" y="52.2">HO</text><text x="39" y="52.2">P</text><text x="59" y="52.2">O</text>
<text x="79.1" y="52.2">P</text><text x="98.8" y="52.2">O</text><text x="39" y="32.6">O</text>
<text x="79.1" y="32.6">O</text><text x="43.4" y="72.6">OH</text><text x="83.6" y="72.6">OH</text>
<text x="147" y="33.5">O</text><text x="122.4" y="79.1">HO</text><text x="172.9" y="79.1">OH</text>
<text x="181.8" y="38.7">N</text><text x="238.5" y="19.6">O</text><text x="220.7" y="46.5">NH</text><text x="191.6" y="70.4">O</text>
<text class="lbl" x="8.6" y="98.5">C00015</text>
</g>

<!-- ADP C00003 (bottom) -->
<g class="m" font-size="10.5" transform="translate(692.5,2268.5)">
<path class="b" d="M25,45.7H37.5 M46.5,45.7H57.5 M66.5,45.7H76 M84.5,45.7H96 M40.5,39V30 M43.5,39V30 M78.8,39V30 M81.8,39V30 M42,51V58 M80.3,51V58 M104,42L110,33.4 M132.7,37.4L144,29.5 M151.5,29.5L163.7,37.4L158.7,54L138.7,54L132.7,37.4 M180.5,30L185.4,15H202 M187,18.3H201 M209.5,17L213.7,31.7L198,48.3L183,38 M198,48.3V58 M204,66L217,69L229,62 M233.7,53.5L231.3,40L213.7,31.7 M231.3,40L244,31 M216.5,35.5L228,41"/>
<path class="h" d="M138.7,54L132,67 M158.7,54L167,65"/>
<polygon class="w" points="110,33.4 132.7,35.4 132.7,39.4"/>
<polygon class="w" points="163.7,37.4 175.5,32.5 176.5,36.5"/>
<text x="16.7" y="49.5">HO</text><text x="42" y="49.5">P</text><text x="62" y="49.5">O</text><text x="80.3" y="49.5">P</text><text x="100.4" y="49.5">O</text>
<text x="42" y="28.8">O</text><text x="80.3" y="28.8">O</text><text x="46" y="67.2">OH</text><text x="84.3" y="67.2">OH</text>
<text x="147.7" y="30.5">O</text><text x="128.7" y="77.8">HO</text><text x="173.7" y="75.5">OH</text>
<text x="178.7" y="38.8">N</text><text x="207" y="16.5">N</text><text x="198.7" y="66.5">N</text><text x="233.7" y="62.2">N</text>
<text x="252" y="30.5">NH<tspan font-size="7" dy="2.5">2</tspan></text>
<text class="lbl" x="10" y="97">C00003</text>
</g>

</svg>
</body></html>
